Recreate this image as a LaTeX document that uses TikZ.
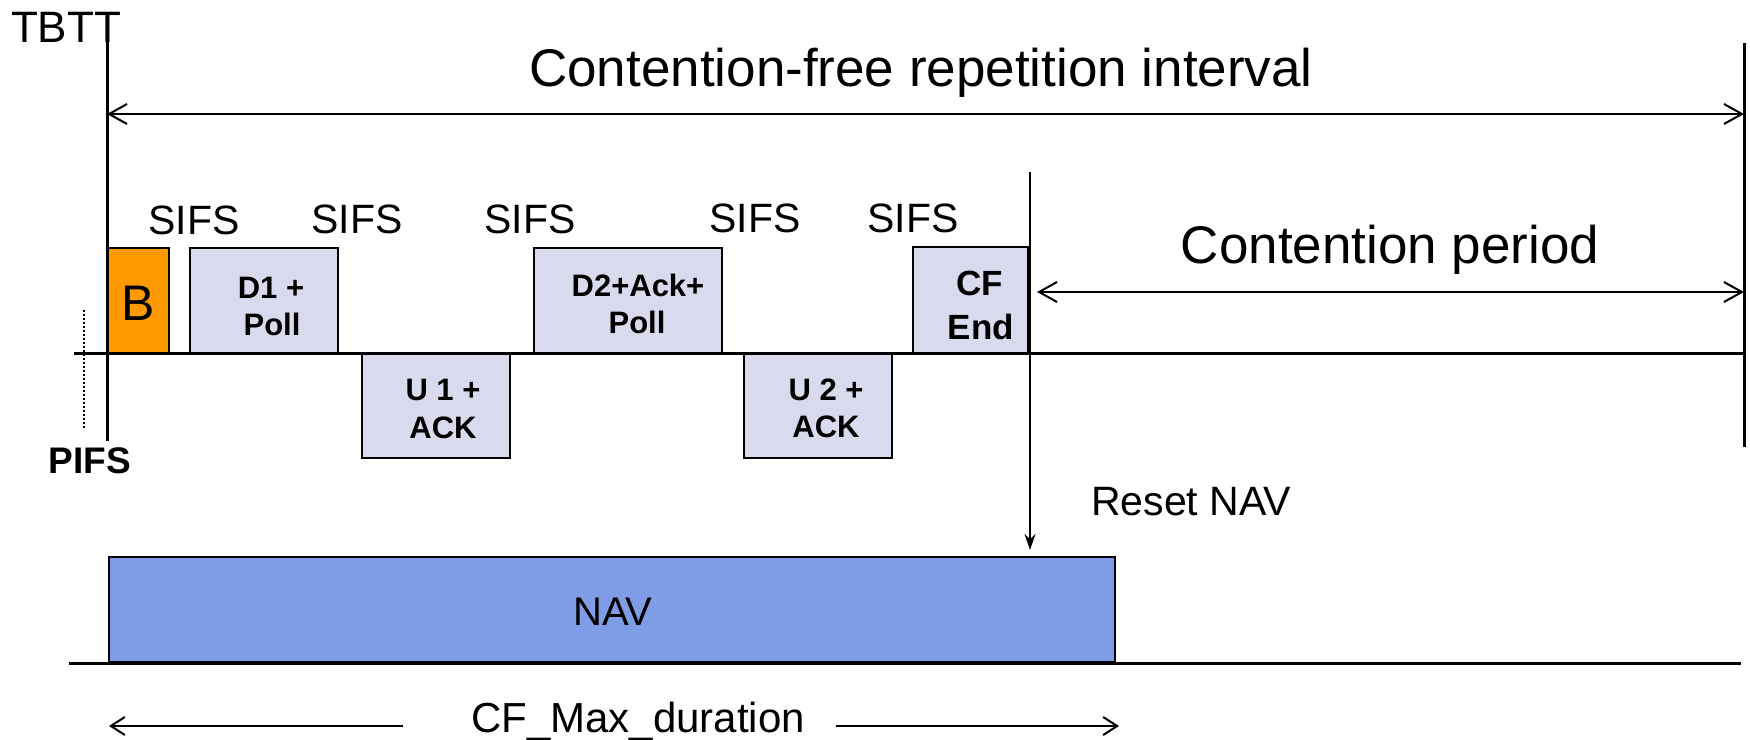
\documentclass[tikz,border=0pt]{standalone}
\usepackage{fontspec}
\setmainfont{Liberation Sans}
\usetikzlibrary{arrows.meta}
\definecolor{pktfill}{RGB}{217,218,237}
\definecolor{beacon}{RGB}{255,153,0}
\definecolor{navblue}{RGB}{127,156,230}
\begin{document}
\begin{tikzpicture}[x=1pt,y=-1pt,
  pkt/.style={draw=black, line width=2pt, fill=pktfill, inner sep=0pt, outer sep=0pt},
  lbl/.style={inner sep=0pt, outer sep=0pt, anchor=base},
  big/.style={lbl, font=\fontsize{53}{60}\selectfont},
  mid/.style={lbl, font=\fontsize{41}{48}\selectfont},
  bold/.style={lbl, font=\fontsize{31}{37}\selectfont\bfseries},
  barb/.style={line width=2pt, {Straight Barb[length=18pt,width=20pt,line width=2pt]}-{Straight Barb[length=18pt,width=20pt,line width=2pt]}},
  barbend/.style={line width=2pt, -{Straight Barb[length=14pt,width=18pt,line width=2pt]}}
]
\useasboundingbox (0,0) rectangle (1750,739);

% coordinates
\coordinate (vtop) at (107,13);
\coordinate (vbot) at (107,441);
\coordinate (rtop) at (1744,43);
\coordinate (rbot) at (1744,447);
\coordinate (tl0) at (74,353);
\coordinate (tl1) at (1744,353);
\coordinate (cftop) at (1030,172);
\coordinate (cfbot) at (1030,550);
\coordinate (ia) at (107,114);
\coordinate (ib) at (1744,114);
\coordinate (ca) at (1037,292);
\coordinate (cb) at (1744,292);
\coordinate (bl0) at (69,663);
\coordinate (bl1) at (1741,663);
\coordinate (dt0) at (84,310);
\coordinate (dt1) at (84,430);
\coordinate (ma0) at (403,726);
\coordinate (ma1) at (109,726);
\coordinate (mb0) at (836,726);
\coordinate (mb1) at (1119,726);

% NAV box and baseline
\node[draw=black, line width=2pt, fill=navblue, minimum width=1006pt, minimum height=105pt, inner sep=0pt] (nav) at (612,609.5) {};
\draw[line width=3pt] (bl0) -- (bl1);
\node[lbl, font=\fontsize{40}{48}\selectfont] (navt) at (613,625) {NAV};

% packets
\node[pkt, fill=beacon, minimum width=62pt, minimum height=105pt] (b) at (138,300.5) {};
\node[pkt, minimum width=148pt, minimum height=106pt] (d1) at (264,301) {};
\node[pkt, minimum width=148pt, minimum height=104pt] (u1) at (436,406) {};
\node[pkt, minimum width=188pt, minimum height=106pt] (d2) at (628,301) {};
\node[pkt, minimum width=148pt, minimum height=104pt] (u2) at (818,406) {};
\node[pkt, minimum width=115pt, minimum height=106pt] (cf) at (970.5,300) {};

% timeline and verticals
\draw[line width=3pt] (tl0) -- (tl1);
\draw[line width=3pt] (vtop) -- (vbot);
\draw[line width=3pt] (rtop) -- (rbot);
\draw[line width=2pt] (cftop) -- (1030,540);
\draw[line width=1.5pt, -{Stealth[length=16pt,width=11pt]}] (cftop) -- (cfbot);
\draw[line width=2pt, dotted] (dt0) -- (dt1);

% interval arrows
\draw[barb] (ia) -- (ib);
\draw[barb] (ca) -- (cb);
\draw[barbend] (ma0) -- (ma1);
\draw[barbend] (mb0) -- (mb1);

% texts
\node[lbl, font=\fontsize{44}{50}\selectfont] (tbtt) at (66,42) {TBTT};
\node[big] (cfri) at (921,86) {Contention-free repetition interval};
\node[big] (cp) at (1390,263) {Contention period};
\node[mid] (s1) at (194,234) {SIFS};
\node[mid] (s2) at (357,233) {SIFS};
\node[mid] (s3) at (530,233) {SIFS};
\node[mid] (s4) at (755,232) {SIFS};
\node[mid] (s5) at (913,232) {SIFS};
\node[lbl, font=\fontsize{50}{56}\selectfont] (bt) at (138,320) {B};
\node[bold] (d1a) at (271,298) {D1 +};
\node[bold] (d1b) at (272,335) {Poll};
\node[bold] (u1a) at (443,400) {U 1 +};
\node[bold] (u1b) at (443,438) {ACK};
\node[bold] (d2a) at (638,296) {D2+Ack+};
\node[bold] (d2b) at (637,333) {Poll};
\node[bold] (u2a) at (826,400) {U 2 +};
\node[bold] (u2b) at (826,437) {ACK};
\node[lbl, font=\fontsize{35}{40}\selectfont\bfseries] (cfa) at (980,295) {CF};
\node[lbl, font=\fontsize{35}{40}\selectfont\bfseries] (cfb) at (981,339) {End};
\node[lbl, font=\fontsize{37}{42}\selectfont\bfseries] (pifs) at (90,473) {PIFS};
\node[mid] (rn) at (1191,515) {Reset NAV};
\node[lbl, font=\fontsize{42}{48}\selectfont] (cfmax) at (638,732) {CF\_Max\_duration};
\end{tikzpicture}
\end{document}
